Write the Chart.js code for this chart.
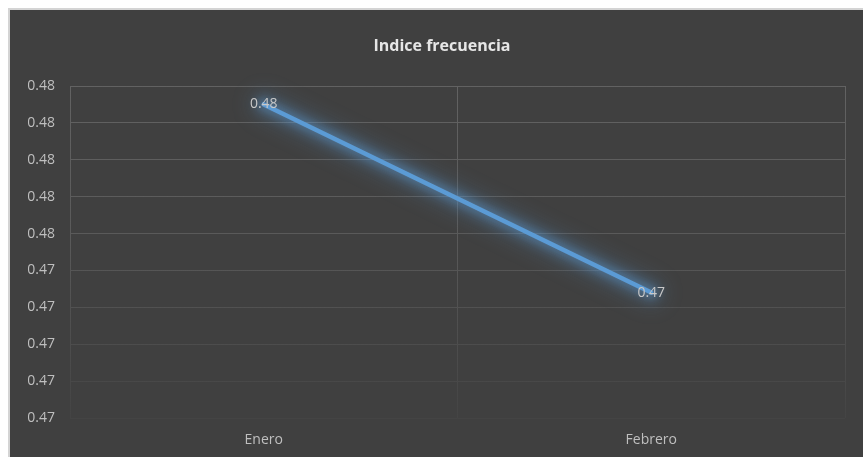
<!DOCTYPE html>
<html>
<head>
<meta charset="utf-8">
<script src="https://cdn.jsdelivr.net/npm/chart.js@4.4.1/dist/chart.umd.min.js"></script>
<style>
  html, body { margin: 0; padding: 0; background: #ffffff; width: 863px; height: 457px; overflow: hidden; }
  #wrap { position: absolute; left: 8px; top: 8px; width: 870px; height: 460px; background: #404040;
          border-left: 2px solid #d4d4d4; border-top: 2px solid #d4d4d4; }
  canvas { display: block; }
</style>
</head>
<body>
<div id="wrap"><canvas id="c" width="866" height="447"></canvas></div>
<script>
const titleText = 'Indice frecuencia';
const categories = ['Enero', 'Febrero'];
const seriesValues = [0.4757, 0.47468];
const yTickValues = [0.4740, 0.4742, 0.4744, 0.4746, 0.4748, 0.4750, 0.4752, 0.4754, 0.4756, 0.4758];
const yTickLabels = ['0.47', '0.47', '0.47', '0.47', '0.47', '0.48', '0.48', '0.48', '0.48', '0.48'];

const FONT = "'Open Sans', 'Liberation Sans', sans-serif";

let gridGradient = null;
function gridColor(ctx) {
  const chart = ctx.chart;
  const area = chart.chartArea;
  if (!area) return '#585858';
  if (!gridGradient) {
    const g = chart.ctx.createLinearGradient(0, area.top, 0, area.bottom);
    g.addColorStop(0, 'rgba(98,98,98,1)');
    g.addColorStop(0.45, 'rgba(90,90,90,1)');
    g.addColorStop(1, 'rgba(68,68,68,1)');
    gridGradient = g;
  }
  return gridGradient;
}

const titlePlugin = {
  id: 'customTitle',
  afterDraw(chart) {
    const c = chart.ctx;
    c.save();
    c.font = 'bold 16px ' + FONT;
    c.fillStyle = '#e6e6e6';
    c.textAlign = 'center';
    c.textBaseline = 'middle';
    c.fillText(titleText, 432, 36);
    c.restore();
  }
};

// soft glow under the line, following the points placed by the scales
const glowPlugin = {
  id: 'glow',
  beforeDatasetDraw(chart) {
    const c = chart.ctx;
    const pts = chart.getDatasetMeta(0).data;
    c.save();
    c.lineCap = 'round';
    c.lineJoin = 'round';
    const passes = [
      { w: 30, a: 0.16, b: 9 },
      { w: 18, a: 0.22, b: 5 },
      { w: 10, a: 0.25, b: 3 }
    ];
    passes.forEach(p => {
      c.filter = 'blur(' + p.b + 'px)';
      c.strokeStyle = 'rgba(91,155,213,' + p.a + ')';
      c.lineWidth = p.w;
      c.beginPath();
      pts.forEach((pt, i) => { if (i === 0) c.moveTo(pt.x, pt.y); else c.lineTo(pt.x, pt.y); });
      c.stroke();
    });
    c.restore();
  }
};

const valueLabels = {
  id: 'valueLabels',
  afterDatasetsDraw(chart) {
    const c = chart.ctx;
    const meta = chart.getDatasetMeta(0);
    c.save();
    c.font = '14px ' + FONT;
    c.fillStyle = '#c8c8c8';
    c.textAlign = 'center';
    c.textBaseline = 'middle';
    meta.data.forEach((pt, i) => {
      c.fillText(seriesValues[i].toFixed(2), pt.x, pt.y);
    });
    c.restore();
  }
};

new Chart(document.getElementById('c'), {
  type: 'line',
  data: {
    labels: categories,
    datasets: [{
      data: seriesValues,
      borderColor: '#5B9BD5',
      borderWidth: 4.5,
      pointRadius: 0,
      tension: 0,
      borderCapStyle: 'round'
    }]
  },
  options: {
    responsive: false,
    animation: false,
    layout: { padding: { left: 0, right: 31, top: 76, bottom: 0 } },
    plugins: {
      legend: { display: false },
      tooltip: { enabled: false },
      title: { display: false }
    },
    scales: {
      x: {
        offset: true,
        grid: { color: gridColor, lineWidth: 1, drawTicks: false, offset: true },
        border: { display: false },
        ticks: { color: '#bfbfbf', font: { family: FONT, size: 14 }, padding: 14 },
        afterFit(scale) { scale.height = 39; }
      },
      y: {
        min: yTickValues[0],
        max: yTickValues[yTickValues.length - 1],
        afterBuildTicks(scale) { scale.ticks = yTickValues.map(v => ({ value: v })); },
        grid: { color: gridColor, lineWidth: 1, drawTicks: false },
        border: { display: false },
        ticks: {
          color: '#bfbfbf',
          font: { family: FONT, size: 14 },
          padding: 15,
          callback: (v, i) => yTickLabels[i]
        },
        afterFit(scale) { scale.width = 60; }
      }
    }
  },
  plugins: [glowPlugin, valueLabels, titlePlugin]
});
</script>
</body>
</html>
